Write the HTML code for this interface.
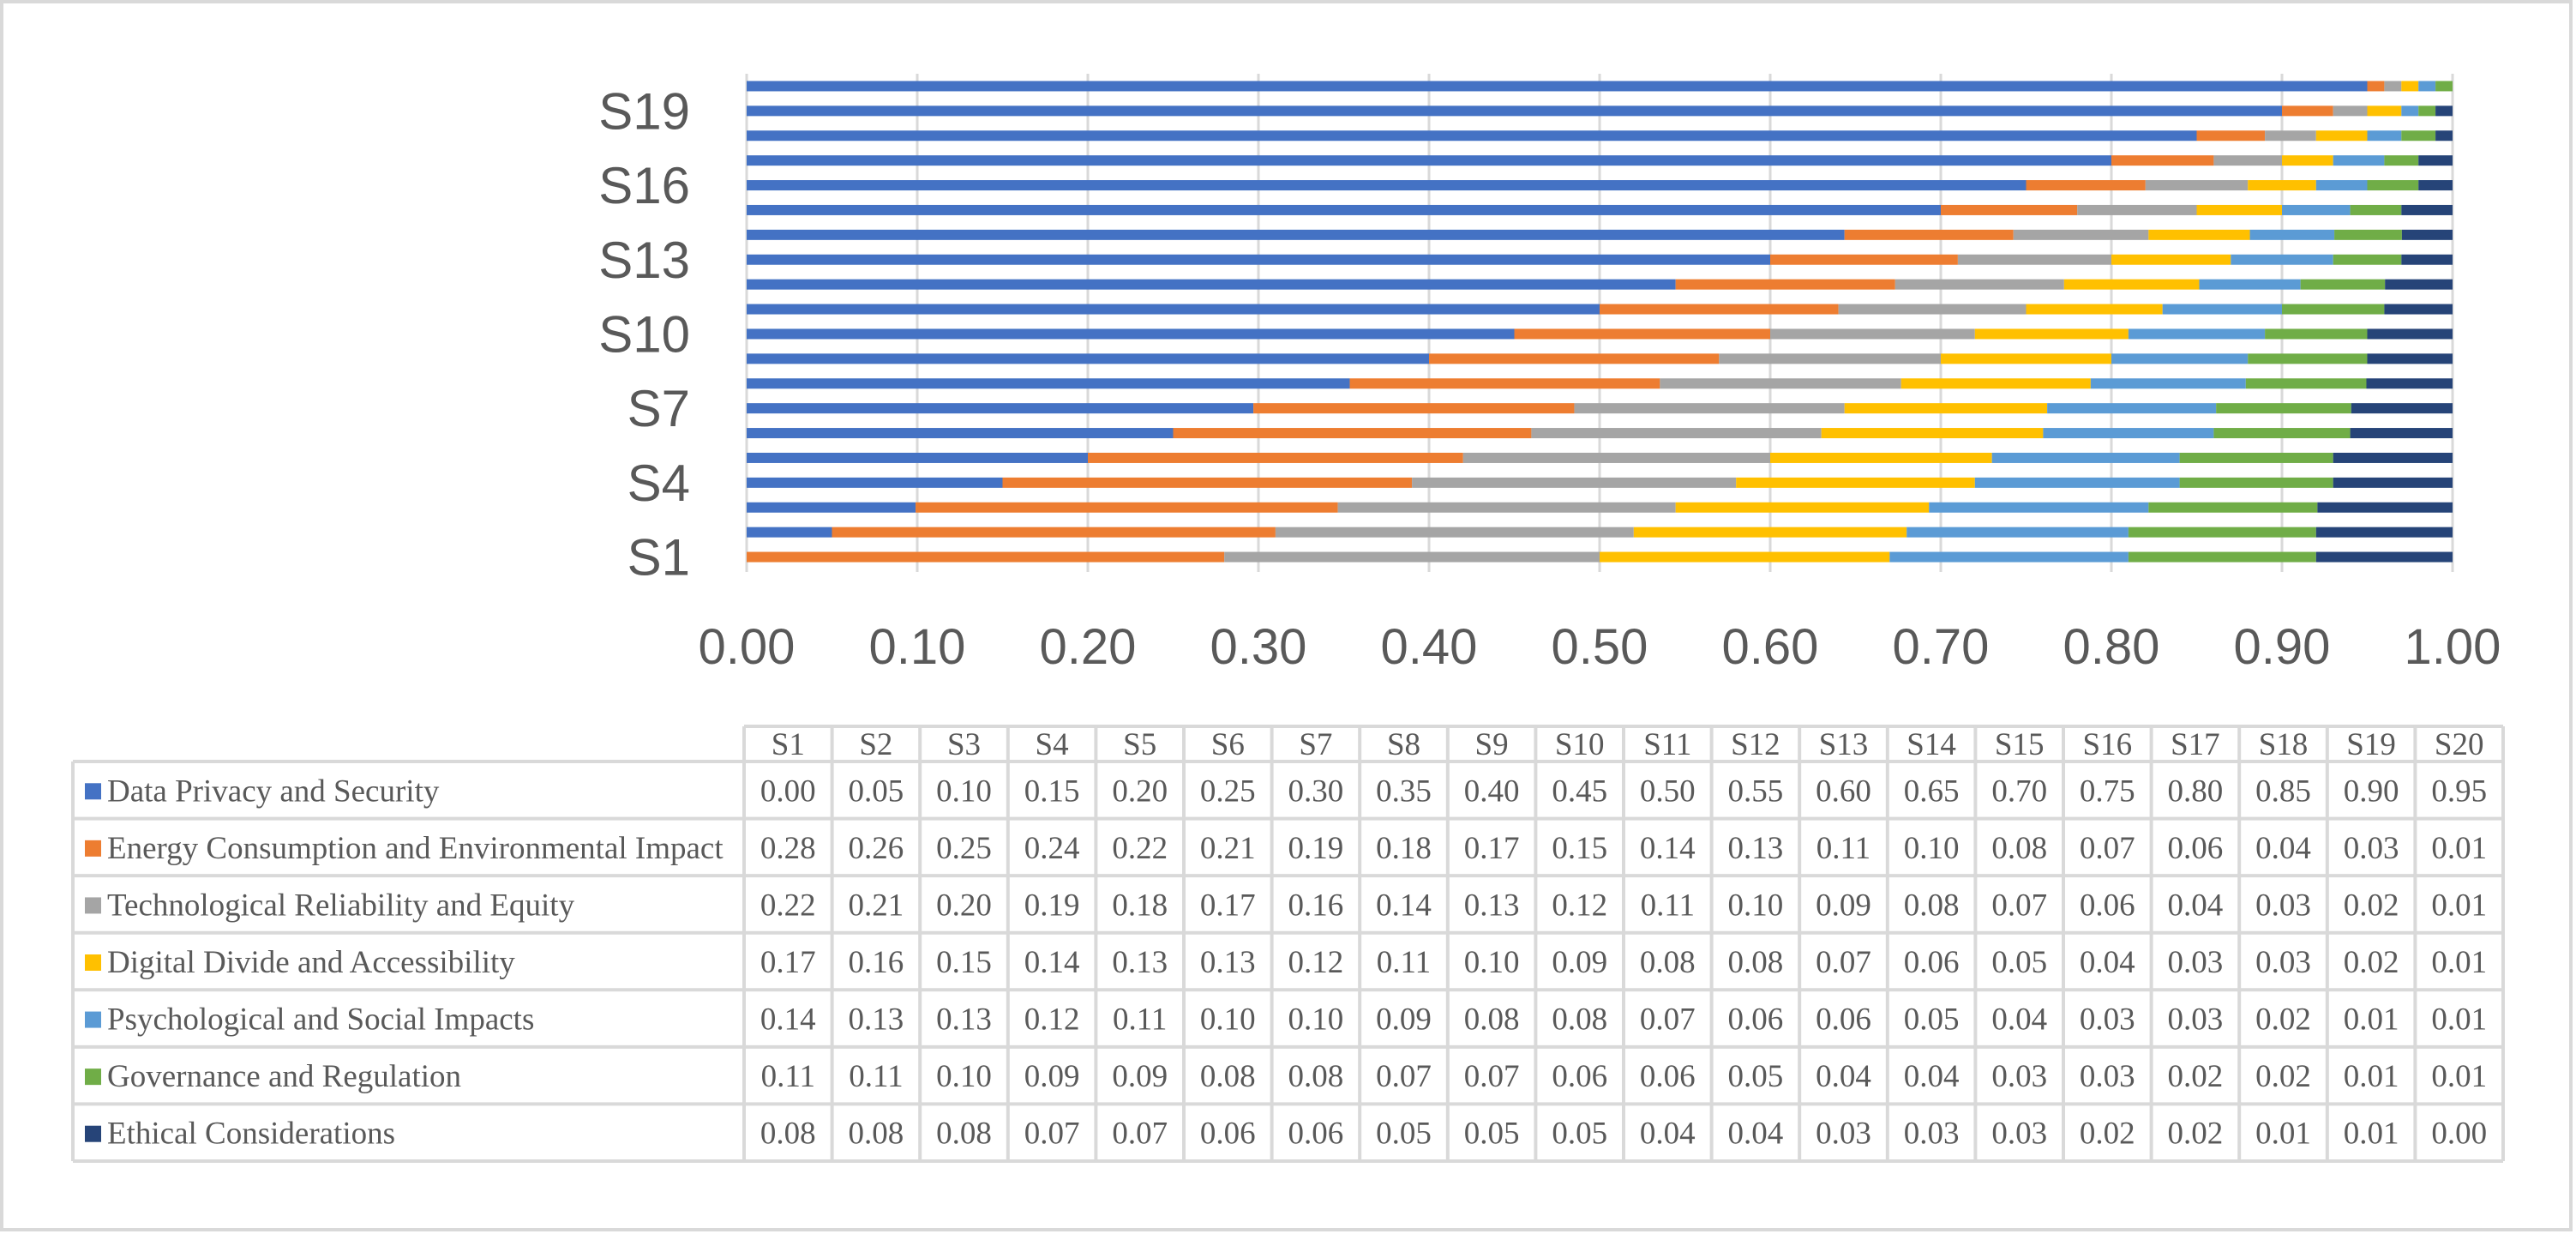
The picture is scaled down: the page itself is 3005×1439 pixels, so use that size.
<!DOCTYPE html>
<html><head><meta charset="utf-8"><style>
html,body{margin:0;padding:0;background:#fff;}
svg{display:block;}
</style></head><body>
<svg id="chart" width="3005" height="1439" xmlns="http://www.w3.org/2000/svg">
<rect x="2" y="2" width="2997" height="1432" fill="#fff" stroke="#d9d9d9" stroke-width="4"/>
<g id="grid"></g><g id="bars"></g><g id="axes"></g><g id="table"></g>
</svg>
<script>
const categories = ["S1","S2","S3","S4","S5","S6","S7","S8","S9","S10","S11","S12","S13","S14","S15","S16","S17","S18","S19","S20"];
const seriesNames = ["Data Privacy and Security","Energy Consumption and Environmental Impact","Technological Reliability and Equity","Digital Divide and Accessibility","Psychological and Social Impacts","Governance and Regulation","Ethical Considerations"];
const dataPrivacy = [0.00,0.05,0.10,0.15,0.20,0.25,0.30,0.35,0.40,0.45,0.50,0.55,0.60,0.65,0.70,0.75,0.80,0.85,0.90,0.95];
const energy = [0.28,0.26,0.25,0.24,0.22,0.21,0.19,0.18,0.17,0.15,0.14,0.13,0.11,0.10,0.08,0.07,0.06,0.04,0.03,0.01];
const techReliability = [0.22,0.21,0.20,0.19,0.18,0.17,0.16,0.14,0.13,0.12,0.11,0.10,0.09,0.08,0.07,0.06,0.04,0.03,0.02,0.01];
const digitalDivide = [0.17,0.16,0.15,0.14,0.13,0.13,0.12,0.11,0.10,0.09,0.08,0.08,0.07,0.06,0.05,0.04,0.03,0.03,0.02,0.01];
const psychological = [0.14,0.13,0.13,0.12,0.11,0.10,0.10,0.09,0.08,0.08,0.07,0.06,0.06,0.05,0.04,0.03,0.03,0.02,0.01,0.01];
const governance = [0.11,0.11,0.10,0.09,0.09,0.08,0.08,0.07,0.07,0.06,0.06,0.05,0.04,0.04,0.03,0.03,0.02,0.02,0.01,0.01];
const ethical = [0.08,0.08,0.08,0.07,0.07,0.06,0.06,0.05,0.05,0.05,0.04,0.04,0.03,0.03,0.03,0.02,0.02,0.01,0.01,0.00];
const xTicks = ["0.00","0.10","0.20","0.30","0.40","0.50","0.60","0.70","0.80","0.90","1.00"];
const yLabelIdx = [0,3,6,9,12,15,18];

const series = [dataPrivacy, energy, techReliability, digitalDivide, psychological, governance, ethical];
const colors = ["#4472c4","#ed7d31","#a5a5a5","#ffc000","#5b9bd5","#70ad47","#264478"];
const NS = "http://www.w3.org/2000/svg";
function mk(tag, attrs, parent){const e=document.createElementNS(NS,tag);for(const k in attrs)e.setAttribute(k,attrs[k]);parent.appendChild(e);return e;}
const X0=871, X1=2861, YT=86, YB=664;
const band=(YB-YT)/categories.length;
const xs=v=>X0+(X1-X0)*v;
const yc=i=>YB-(i+0.5)*band;

const grid=document.getElementById('grid');
xTicks.forEach((t,i)=>{
  const l=mk('line',{x1:xs(i/10),x2:xs(i/10),y1:YT,y2:YB+3,stroke:'#d9d9d9','stroke-width':3},grid);
  
  
});
const bars=document.getElementById('bars');
categories.forEach((c,i)=>{
  let tot=0; series.forEach(s=>tot+=s[i]); if(!tot) tot=1;
  let acc=0;
  series.forEach((s,k)=>{
    const w=s[i]/tot;
    const r=mk('rect',{x:xs(acc),y:yc(i)-6,width:Math.max(0,xs(acc+w)-xs(acc)),height:12,fill:colors[k]},bars);
    
    
    acc+=w;
  });
});
const axes=document.getElementById('axes');
xTicks.forEach((t,i)=>{
  const tx=mk('text',{x:xs(i/10),y:774,'text-anchor':'middle','font-family':'Liberation Sans, sans-serif','font-size':58,fill:'#595959'},axes);
  tx.textContent=t;
  
  
});
yLabelIdx.forEach(i=>{
  const tx=mk('text',{x:805,y:yc(i)+21,'text-anchor':'end','font-family':'Liberation Sans, sans-serif','font-size':60,fill:'#595959'},axes);
  tx.textContent=categories[i];
  
  
});
// data table
const tb=document.getElementById('table');
const TL=85, TC=868, TR=2920, HT=847, HB=888, RH=(1354-888)/7;
const cw=(TR-TC)/categories.length;
const bc='#d9d9d9';
function ln(x1,y1,x2,y2){const l=mk('line',{x1,y1,x2,y2,stroke:bc,'stroke-width':4},tb);}
ln(TC,HT,TR,HT);
for(let r=0;r<=7;r++) ln(TL,HB+r*RH,TR,HB+r*RH);
ln(TL,HB,TL,HB+7*RH);
for(let c=0;c<=categories.length;c++) ln(TC+c*cw,HT,TC+c*cw,HB+7*RH);
categories.forEach((c,i)=>{
  const t=mk('text',{x:TC+(i+0.5)*cw,y:HT+33,'text-anchor':'middle','font-family':'Liberation Serif, serif','font-size':37,fill:'#595959'},tb);
  t.textContent=c;
  
  
});
series.forEach((s,k)=>{
  const yb=HB+k*RH+RH/2+13;
  const m=mk('rect',{x:99,y:yb-21,width:19,height:19,fill:colors[k]},tb);
  
  
  const t=mk('text',{x:125,y:yb,'font-family':'Liberation Serif, serif','font-size':37,fill:'#595959'},tb);
  t.textContent=seriesNames[k];
  
  
  s.forEach((v,i)=>{
    const n=mk('text',{x:TC+(i+0.5)*cw,y:yb,'text-anchor':'middle','font-family':'Liberation Serif, serif','font-size':37,fill:'#595959'},tb);
    n.textContent=v.toFixed(2);
    
    
  });
});
</script>
</body></html>
